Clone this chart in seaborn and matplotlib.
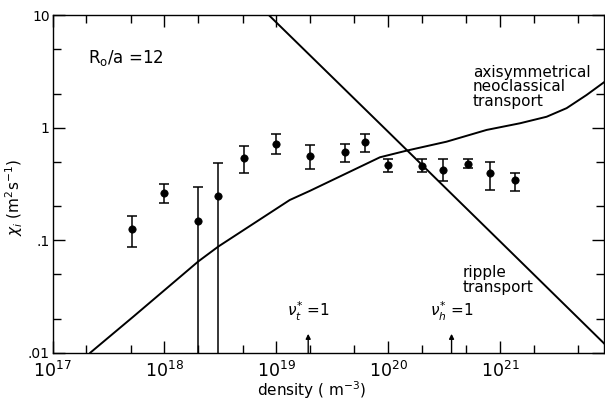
import numpy as np
import pandas as pd
import matplotlib
matplotlib.use("Agg")
import matplotlib.pyplot as plt
import seaborn as sns
from matplotlib.ticker import FixedLocator, FixedFormatter, NullFormatter

# ---- measured data ----
density = [5.1e17, 1.0e18, 2.0e18, 3.0e18, 5.2e18, 1.0e19, 2.0e19, 4.1e19,
           6.2e19, 1.0e20, 2.0e20, 3.1e20, 5.2e20, 8.2e20, 1.35e21]
chi = [0.127, 0.264, 0.149, 0.249, 0.535, 0.717, 0.561, 0.605,
       0.742, 0.467, 0.457, 0.421, 0.476, 0.394, 0.344]
chi_hi = [0.166, 0.316, 0.296, 0.483, 0.684, 0.874, 0.699, 0.713,
          0.885, 0.531, 0.527, 0.524, 0.527, 0.493, 0.399]
chi_lo = [0.088, 0.215, 0.005, 0.005, 0.394, 0.587, 0.432, 0.493,
          0.612, 0.407, 0.407, 0.336, 0.439, 0.280, 0.274]

# axisymmetrical neoclassical transport curve
neo_n = [2.16e17, 5.27e17, 2.01e18, 3.03e18, 1.32e19, 2.0e19, 8.45e19, 1.46e20,
         3.33e20, 7.6e20, 1.51e21, 2.61e21, 3.94e21, 5.94e21, 8.65e21]
neo_chi = [0.01, 0.021, 0.065, 0.088, 0.228, 0.275, 0.546, 0.625,
           0.751, 0.955, 1.094, 1.25, 1.49, 1.95, 2.56]

# ripple transport line
rip_n = [5.0e18, 1.0e19, 1.0e20, 1.0e21, 1.0e22]
rip_chi = [16.9, 8.6, 0.92, 0.098, 0.0104]

# collisionality markers
nu_t_n = 1.93e19
nu_h_n = 3.69e20

x_major = [1e17, 1e18, 1e19, 1e20, 1e21]
x_major_labels = [r"$10^{17}$", r"$10^{18}$", r"$10^{19}$", r"$10^{20}$", r"$10^{21}$"]
y_major = [0.01, 0.1, 1, 10]
y_major_labels = [".01", ".1", "1", "10"]

sns.set_style("ticks")
plt.rcParams["font.family"] = ["DejaVu Sans"]
plt.rcParams["mathtext.fontset"] = "dejavusans"
for k in ("text.color", "axes.labelcolor", "xtick.color", "ytick.color",
          "axes.edgecolor"):
    plt.rcParams[k] = "black"

fig = plt.figure(figsize=(6.05, 4.0), dpi=100)
ax = fig.add_axes([0.0868, 0.1175, 0.9115, 0.845])

ax.set_xscale("log")
ax.set_yscale("log")

sns.lineplot(x=neo_n, y=neo_chi, ax=ax, color="black", lw=1.4,
             sort=False, estimator=None)
sns.lineplot(x=rip_n, y=rip_chi, ax=ax, color="black", lw=1.4,
             sort=False, estimator=None)

d = np.array(density); c = np.array(chi)
lo = np.array(chi_lo); hi = np.array(chi_hi)
ax.errorbar(d, c, yerr=[c - lo, hi - c], fmt="none", ecolor="black",
            elinewidth=1.1, capsize=3.5, capthick=1.1)
sns.scatterplot(x=density, y=chi, ax=ax, color="black", s=28,
                edgecolor="black", linewidth=0.5, zorder=5)

ax.set_xlim(1e17, 8.5e21)
ax.set_ylim(0.01, 10)

minor_x = [m * 10.0 ** e for e in range(17, 22) for m in (2, 5)]
minor_y = [m * 10.0 ** e for e in range(-2, 1) for m in (2, 5)]
ax.xaxis.set_major_locator(FixedLocator(x_major))
ax.xaxis.set_major_formatter(FixedFormatter(x_major_labels))
ax.xaxis.set_minor_locator(FixedLocator(minor_x))
ax.xaxis.set_minor_formatter(NullFormatter())
ax.yaxis.set_major_locator(FixedLocator(y_major))
ax.yaxis.set_major_formatter(FixedFormatter(y_major_labels))
ax.yaxis.set_minor_locator(FixedLocator(minor_y))
ax.yaxis.set_minor_formatter(NullFormatter())

ax.tick_params(which="both", direction="in", top=True, right=True,
               color="black", width=1.0)
ax.tick_params(which="major", length=8.5)
ax.tick_params(which="minor", length=5.5)
ax.tick_params(axis="x", which="major", labelsize=12.5, pad=6)
ax.tick_params(axis="y", which="major", labelsize=10, pad=2)
for s in ax.spines.values():
    s.set_linewidth(1.0)
    s.set_color("black")

ax.set_xlabel(r"density ( m$^{-3}$)", fontsize=11)
ax.xaxis.set_label_coords(0.47, -0.078)
ax.set_ylabel(r"$\chi_i$ (m$^2$s$^{-1}$)", fontsize=11)
ax.yaxis.set_label_coords(-0.05, 0.46)

ax.text(0.064, 0.873, r"R$_\mathrm{o}$/a =12", transform=ax.transAxes,
        fontsize=12, ha="left", va="center")
ax.text(0.762, 0.852, "axisymmetrical\nneoclassical\ntransport",
        transform=ax.transAxes, fontsize=11, ha="left", va="top",
        linespacing=0.95)
ax.text(0.744, 0.260, "ripple\ntransport", transform=ax.transAxes,
        fontsize=11, ha="left", va="top", linespacing=0.95)

for xn, lab in ((nu_t_n, r"$\nu_t^{*}$ =1"), (nu_h_n, r"$\nu_h^{*}$ =1")):
    ax.annotate("", xy=(xn, 0.0148), xytext=(xn, 0.01),
                arrowprops=dict(arrowstyle="-|>", color="black", lw=1.0,
                                mutation_scale=7, shrinkA=0, shrinkB=0))
    ax.text(xn, 0.0235, lab, fontsize=11, ha="center", va="center")

fig.savefig("out.png", dpi=100)
